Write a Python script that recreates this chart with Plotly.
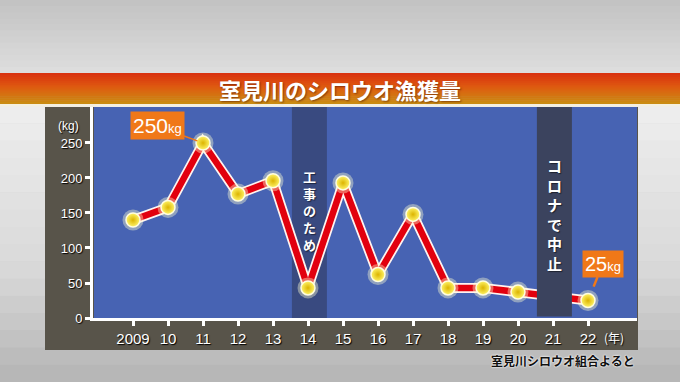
import plotly.graph_objects as go

# ---- data ----
years = [2009, 2010, 2011, 2012, 2013, 2014, 2015, 2016, 2017, 2018, 2019, 2020, 2021, 2022]
catch_kg = [140, 158, 250, 177, 196, 43, 193, 62, 148, 43, 43, 37, None, 25]
tick_labels = ["2009", "10", "11", "12", "13", "14", "15", "16", "17", "18", "19", "20", "21", "22"]
y_ticks = [0, 50, 100, 150, 200, 250]
title_text = "室見川のシロウオ漁獲量"
band1_year, band1_text = 2014, "工事のため"
band2_year, band2_text = 2021, "コロナで中止"
peak_year, peak_val = 2011, 250
last_year, last_val = 2022, 25
source_text = "室見川シロウオ組合よると"

W, H = 680, 382
JP = "Noto Sans CJK JP"
NUM = "Liberation Sans"


def fx(px):
    return px / W


def fy(py):
    return 1 - py / H


def hexmix(c1, c2, t):
    a = [int(c1[i:i + 2], 16) for i in (1, 3, 5)]
    b = [int(c2[i:i + 2], 16) for i in (1, 3, 5)]
    return "rgb(%d,%d,%d)" % tuple(round(a[k] + (b[k] - a[k]) * t) for k in range(3))


shapes = []


def vgrad(x0, x1, y0, y1, stops, n=24):
    for i in range(n):
        t = (i + 0.5) / n
        for j in range(len(stops) - 1):
            if stops[j][0] <= t <= stops[j + 1][0]:
                tt = (t - stops[j][0]) / (stops[j + 1][0] - stops[j][0])
                col = hexmix(stops[j][1], stops[j + 1][1], tt)
                break
        ya = y0 + (y1 - y0) * i / n
        yb = y0 + (y1 - y0) * (i + 1) / n + 0.6
        shapes.append(dict(type="rect", xref="paper", yref="paper", x0=fx(x0), x1=fx(x1),
                           y0=fy(ya), y1=fy(min(yb, H)), fillcolor=col, line_width=0, layer="below"))


# backgrounds
vgrad(0, W, 0, 73, [(0, "#c2c2c2"), (1, "#dedede")], n=12)
vgrad(0, W, 106, H, [(0, "#eeeeee"), (0.6, "#d8d8d8"), (1, "#b4b4b4")], n=16)
vgrad(0, W, 73, 104, [(0, "#d9300f"), (0.45, "#de5a10"), (1, "#c98e12")], n=16)
shapes.append(dict(type="rect", xref="paper", yref="paper", x0=0, x1=1, y0=fy(104), y1=fy(106.5),
                   fillcolor="#f4f0e0", line_width=0, layer="below"))
# dark panel
shapes.append(dict(type="rect", xref="paper", yref="paper", x0=fx(45), x1=fx(638), y0=fy(107), y1=fy(350),
                   fillcolor="#58544a", line_width=0, layer="below"))
# blue plot area
shapes.append(dict(type="rect", xref="paper", yref="paper", x0=fx(94), x1=fx(637), y0=fy(107), y1=fy(318),
                   fillcolor="#4763b3", line_width=0, layer="below"))
# band 1 (below line)
shapes.append(dict(type="rect", xref="x", yref="paper", x0=band1_year - 0.46, x1=band1_year + 0.54,
                   y0=fy(318), y1=fy(107), fillcolor="rgba(45,55,85,0.55)", line_width=0, layer="below"))
# band 2 (above line)
shapes.append(dict(type="rect", xref="x", yref="paper", x0=band2_year - 0.46, x1=band2_year + 0.54,
                   y0=fy(316.5), y1=fy(107), fillcolor="#3b435e", line_width=0, layer="above"))

fig = go.Figure()
fig.add_trace(go.Scatter(x=years, y=catch_kg, mode="lines", connectgaps=True,
                         line=dict(color="#fff4f0", width=10), hoverinfo="skip"))
fig.add_trace(go.Scatter(x=years, y=catch_kg, mode="lines", connectgaps=True,
                         line=dict(color="#e2000e", width=6.5), hoverinfo="skip"))
fig.add_trace(go.Scatter(x=years, y=catch_kg, mode="markers",
                         marker=dict(size=21, color="rgba(255,255,210,0.40)", line_width=0), hoverinfo="skip"))
fig.add_trace(go.Scatter(x=years, y=catch_kg, mode="markers",
                         marker=dict(size=14, color="#fff56a",
                                     gradient=dict(type="radial", color="#dcb400"),
                                     line=dict(color="#fffde0", width=1.5)), hoverinfo="skip"))


def ptxt(text, px, py, font, xanchor="center"):
    return dict(text=text, xref="paper", yref="paper", x=fx(px), y=fy(py), xanchor=xanchor,
                yanchor="middle", showarrow=False, font=font)


annotations = [
    ptxt("<b>%s</b>" % title_text, 340, 89,
         dict(family=JP, size=22, color="white", shadow="1px 1px 2px rgba(80,20,0,0.6)")),
    ptxt("(kg)", 68, 126, dict(family=NUM, size=12, color="white", shadow="1px 1px 1px black")),
    ptxt("(年)", 614, 337, dict(family=JP, size=12, color="white", shadow="1px 1px 1px black")),
    ptxt("<b>%s</b>" % source_text, 637, 360,
         dict(family=JP, size=12, color="#111111", shadow="0px 0px 2px white, 0px 0px 2px white"),
         xanchor="right"),
    dict(text="250<span style='font-size:13px'>kg</span>", x=peak_year, y=peak_val, xref="x", yref="y",
         ax=-46, ay=-17, showarrow=True, arrowhead=0, arrowwidth=1.5, arrowcolor="#f07818", standoff=6,
         bgcolor="#f07818", borderpad=2, font=dict(family=NUM, size=21, color="white")),
    dict(text="25<span style='font-size:13px'>kg</span>", x=last_year, y=last_val, xref="x", yref="y",
         ax=15, ay=-37, showarrow=True, arrowhead=0, arrowwidth=2.5, arrowcolor="#f07818", standoff=15,
         bgcolor="#f07818", borderpad=2, font=dict(family=NUM, size=20, color="white")),
]

# vertical (tategaki) band labels: one character per line
for year, text, center, size in [(band1_year, band1_text, 210, 13),
                                 (band2_year, band2_text, 215, 15)]:
    annotations.append(dict(text="<b>" + "<br>".join(text) + "</b>", x=year + 0.04, y=fy(center),
                            xref="x", yref="paper", xanchor="center", yanchor="middle", align="center",
                            showarrow=False,
                            font=dict(family=JP, size=size, color="white",
                                      shadow="1px 1px 1px rgba(0,0,0,0.5)")))

fig.update_layout(
    width=W, height=H, autosize=False, margin=dict(l=0, r=0, t=0, b=0, pad=0, autoexpand=False),
    paper_bgcolor="#b8b8b8", plot_bgcolor="rgba(0,0,0,0)",
    showlegend=False, shapes=shapes, annotations=annotations,
    xaxis=dict(domain=[fx(93), fx(637)], range=[2007.857, 2023.4], tickvals=years, ticktext=tick_labels,
               automargin=False,
               showgrid=False, zeroline=False, showline=True, linecolor="white", linewidth=3,
               ticks="outside", ticklen=5, tickwidth=3, tickcolor="white",
               tickfont=dict(family=NUM, size=15, color="white", shadow="1px 1px 1px black")),
    yaxis=dict(domain=[fy(318), fy(107)], range=[0, 301.4], tickvals=y_ticks, automargin=False,
               showgrid=False, zeroline=False, showline=True, linecolor="white", linewidth=3,
               ticks="outside", ticklen=5, tickwidth=3, tickcolor="white",
               tickfont=dict(family=NUM, size=13, color="white", shadow="1px 1px 1px black")),
)

fig.write_html("out.html")
